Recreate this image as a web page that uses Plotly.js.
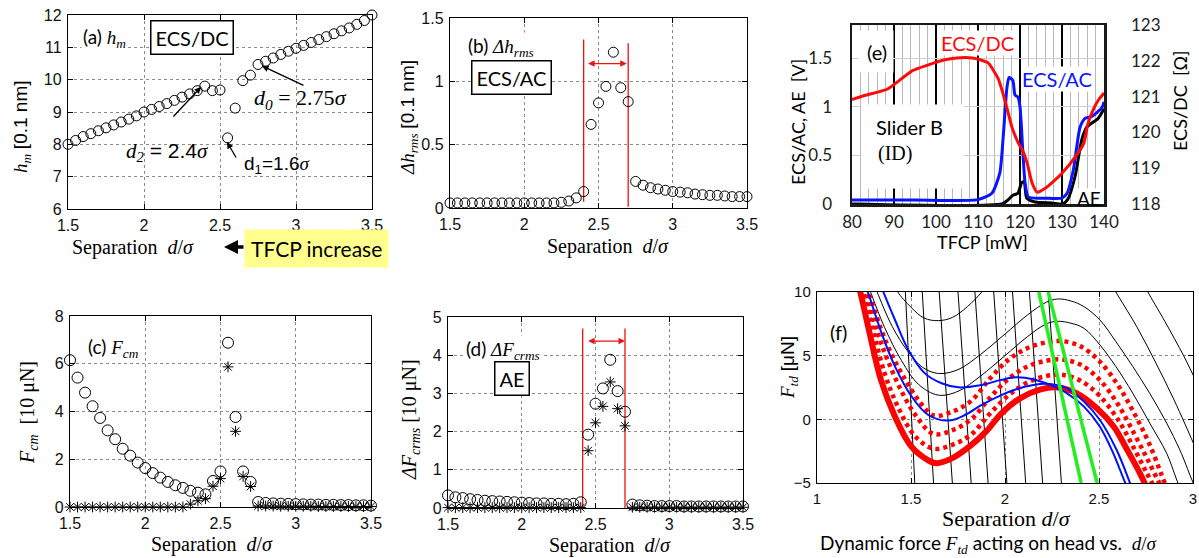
<!DOCTYPE html>
<html><head><meta charset="utf-8">
<script src="https://cdn.plot.ly/plotly-3.0.1.min.js"></script>
<style>html,body{margin:0;padding:0;background:#fff;overflow:hidden}#chart{width:1199px;height:558px}</style>
</head><body><div id="chart"></div>
<script>
// ---------- DATA ----------
const separation = [1.5,1.55,1.6,1.65,1.7,1.75,1.8,1.85,1.9,1.95,2.0,2.05,2.1,2.15,2.2,2.25,2.3,2.35,2.4,2.45,2.5,2.55,2.6,2.65,2.7,2.75,2.8,2.85,2.9,2.95,3.0,3.05,3.1,3.15,3.2,3.25,3.3,3.35,3.4,3.45,3.5];
// (a) h_m [0.1 nm]
const hmValues = [8.0,8.12,8.24,8.33,8.42,8.51,8.6,8.69,8.78,8.88,9.0,9.08,9.17,9.26,9.36,9.46,9.56,9.66,9.8,9.66,9.68,8.2,9.12,9.97,10.14,10.47,10.57,10.67,10.78,10.88,10.97,11.06,11.15,11.24,11.33,11.42,11.51,11.6,11.71,11.83,12.0];
// (b) delta h_rms [0.1 nm]
const dhRms = [0.04,0.04,0.04,0.04,0.04,0.04,0.04,0.04,0.04,0.04,0.04,0.04,0.04,0.04,0.04,0.045,0.055,0.08,0.13,0.66,0.83,0.96,1.23,0.95,0.84,0.21,0.18,0.16,0.15,0.14,0.13,0.125,0.12,0.11,0.105,0.1,0.1,0.095,0.09,0.09,0.09];
const bBoundX = [2.4, 2.7];
const bBoundTop = [1.33, 1.30];
const bBoundBottom = [0.05, 0.01];
const bArrowX = [2.42, 2.69];
const bArrowY = 1.14;
// (c) F_cm [10 uN]
const fcmCircle = [6.15,5.42,4.79,4.22,3.73,3.21,2.84,2.44,2.15,1.86,1.63,1.42,1.23,1.05,0.91,0.8,0.68,0.6,0.53,1.09,1.49,6.88,3.77,1.49,1.05,0.21,0.17,0.15,0.14,0.13,0.12,0.11,0.1,0.1,0.09,0.09,0.08,0.08,0.07,0.07,0.06];
const fcmStar = [0,0,0,0,0,0,0,0,0,0,0,0,0,0,0,0,0.12,0.26,0.35,0.87,1.19,5.87,3.17,1.28,0.86,0.04,0.04,0.04,0.03,0.03,0.03,0.03,0.03,0.02,0.02,0.02,0.02,0.02,0.02,0.02,0.02];
// (d) delta F_crms [10 uN]
const dFcrmsCircle = [0.33,0.28,0.26,0.23,0.21,0.19,0.18,0.17,0.16,0.15,0.14,0.13,0.12,0.12,0.11,0.11,0.1,0.11,0.15,1.92,2.73,3.13,3.88,3.06,2.52,0.09,0.07,0.06,0.05,0.05,0.05,0.05,0.04,0.04,0.04,0.04,0.04,0.04,0.04,0.04,0.04];
const dFcrmsStar = [0.01,0.01,0.01,0.01,0.01,0.01,0.01,0.01,0.01,0.01,0.01,0.01,0.01,0.01,0.01,0.01,0.01,0.01,0.01,1.5,2.23,2.66,3.3,2.6,2.15,0.02,0.02,0.02,0.02,0.02,0.02,0.02,0.02,0.02,0.02,0.02,0.02,0.02,0.02,0.02,0.02];
const dBoundX = [2.413, 2.70];
const dBoundTop = [4.7, 4.7];
const dBoundBottom = [0, 0];
const dArrowX = [2.44, 2.70];
const dArrowY = 4.37;
// (e) TFCP sweep
const tfcpDc = [80,83,88.6,94.3,98,102.1,105,108.6,110.5,112.4,114.8,116.4,118.1,119.6,120.8,121.7,122.9,124.1,126,130,133.8,135.2,136.2,137.5,138.6,140];
const ecsDc = [120.92,121.03,121.22,121.72,121.88,122.03,122.08,122.08,122.03,121.94,121.5,120.9,120.14,119.7,119.45,119.14,118.58,118.33,118.44,118.86,119.42,119.7,120.25,120.65,120.89,121.1];
const tfcpAc = [80,94.6,110,113.3,115.2,116,116.9,117.4,118.3,118.8,119.5,120,120.7,121.2,122,126,130,131.2,132.7,134.3,135.5,137.1,139.5,140];
const ecsAc = [0.04,0.04,0.045,0.11,0.32,0.69,1.2,1.3,1.27,1.12,1.1,1.0,0.52,0.22,0.07,0.06,0.06,0.11,0.35,0.79,0.88,0.9,0.99,1.05];
const tfcpAe = [80,115.7,117.1,118.3,119.5,120.4,121,121.6,123.6,127.6,130.2,131.4,133.1,134.7,135.9,138.6,140];
const aeSignal = [0,0,0.04,0.09,0.11,0.22,0.23,0.06,0.02,0.01,0,0.05,0.28,0.66,0.79,0.88,0.98];
// (f) dynamic force curves
const redSolidX = [1.21,1.23,1.28,1.34,1.415,1.50,1.59,1.635,1.72,1.81,1.90,1.98,2.08,2.19,2.28,2.38,2.49,2.58,2.65,2.72,2.76];
const redSolidY = [11,10,6.75,3.1,0.2,-2.1,-3.2,-3.45,-3.05,-2.15,-0.95,0.45,1.65,2.35,2.5,2.05,0.85,-0.6,-2.4,-4.3,-5.6];
const redDot1X = [1.225,1.245,1.30,1.36,1.43,1.52,1.62,1.72,1.82,1.92,2.02,2.12,2.22,2.30,2.40,2.50,2.60,2.68,2.75,2.80];
const redDot1Y = [11,10,6.9,3.6,1.0,-1.3,-2.3,-2.0,-1.2,0.45,1.9,2.9,3.4,3.5,3.05,1.9,0.0,-2.1,-4.1,-5.5];
const redDot2X = [1.24,1.26,1.32,1.38,1.45,1.53,1.62,1.72,1.82,1.92,2.02,2.12,2.22,2.30,2.40,2.50,2.60,2.69,2.76,2.82,2.84];
const redDot2Y = [11,10,6.9,4.5,2.2,0.2,-1.15,-0.85,0.0,1.7,3.2,4.15,4.6,4.7,4.3,3.15,1.2,-1.2,-3.2,-5.0,-5.6];
const redDot3X = [1.255,1.275,1.34,1.40,1.47,1.545,1.62,1.72,1.82,1.92,2.02,2.12,2.22,2.30,2.40,2.50,2.60,2.69,2.77,2.85,2.87];
const redDot3Y = [11,10,7.1,5.0,3.1,1.4,0.3,0.6,1.45,3.2,4.7,5.6,6.05,6.15,5.75,4.6,2.7,0.4,-2.0,-5.0,-5.6];
const blueAX = [1.34,1.353,1.415,1.486,1.574,1.663,1.752,1.876,1.98,2.06,2.15,2.24,2.33,2.42,2.505,2.576,2.64,2.66];
const blueAY = [10.5,10,7.8,5.45,3.61,2.83,2.51,2.7,3.1,3.3,3.15,2.7,2.04,1.0,-0.58,-2.67,-5,-5.6];
const blueBX = [1.255,1.27,1.344,1.415,1.504,1.592,1.699,1.787,1.876,1.98,2.06,2.15,2.24,2.33,2.42,2.505,2.594,2.665,2.68];
const blueBY = [10.5,10,6.75,4.14,1.78,0.34,-0.1,0.34,1.13,1.9,2.36,2.7,2.77,2.43,1.39,-0.05,-2.41,-5,-5.6];
const black1X = [1.27,1.285,1.36,1.45,1.54,1.645,1.75,1.87,2.0,2.12,2.22,2.28,2.35,2.42,2.505,2.59,2.68,2.77,2.86,2.92,2.94];
const black1Y = [10.6,10,7.2,4.6,2.75,1.9,2.2,3.4,5.0,6.5,7.5,7.7,7.55,7.15,5.84,4.14,2.04,-0.3,-2.67,-5,-5.6];
const black2X = [1.305,1.32,1.40,1.48,1.56,1.645,1.75,1.87,2.0,2.12,2.22,2.28,2.35,2.42,2.505,2.59,2.68,2.77,2.86,2.93,2.99,3.01];
const black2Y = [10.6,10,7.3,5.4,4.1,3.6,3.9,5.1,6.7,8.2,9.2,9.45,9.3,8.85,7.8,6.1,4.14,2.04,-0.3,-2.4,-4.6,-5.3];
const black3X = [1.42,1.43,1.5,1.57,1.645,1.72,1.80,1.876,1.89];
const black3Y = [10.4,10,8.8,7.95,7.75,8.0,8.85,10,10.3];
const blackR1X = [2.58,2.59,2.7,2.8,2.9,3.0,3.02];
const blackR1Y = [10.3,10,7.3,4.5,1.5,-1.8,-2.5];
const blackR2X = [2.75,2.76,2.85,2.95,3.0,3.02];
const blackR2Y = [10.3,10,7.7,5.0,3.5,2.9];
const steepTopX = [1.47,1.56,1.65,1.75,1.84,1.94,2.04,2.13,2.23];
const steepBottomX = [1.52,1.62,1.72,1.82,1.91,2.01,2.11,2.20,2.30];
const greenTopX = [2.18, 2.23];
const greenBottomX = [2.405, 2.49];
const steepTopY = 10, steepBottomY = -5;

// ---------- HELPERS ----------
const W = 1199, H = 558;
const px = v => v / W, py = v => 1 - v / H;
const SERIF = "'Liberation Serif', 'Times New Roman', serif";
const SANS = "'Liberation Sans', Arial, sans-serif";
const CAL = "Lato, 'Open Sans', sans-serif";
const sf = t => `<span style="font-family:Liberation Serif">${t}</span>`;
const ss = t => `<span style="font-family:Liberation Sans">${t}</span>`;

function mAxis(domain, range, dtick, anchor, extra) {
  return Object.assign({
    domain, range, dtick, anchor, tick0: range[0],
    showline: true, mirror: 'allticks', linecolor: '#000', linewidth: 1.2,
    ticks: 'inside', ticklen: 5, tickcolor: '#000',
    showgrid: true, gridcolor: '#8a8a8a', griddash: 'dot', gridwidth: 1,
    zeroline: false, fixedrange: true, ticklabelstandoff: 2,
    tickfont: { family: SANS, size: 16, color: '#111' }
  }, extra || {});
}
function ann(text, x, y, o) {
  return Object.assign({ text, xref: 'paper', yref: 'paper', x: px(x), y: py(y),
    xanchor: 'center', yanchor: 'middle', showarrow: false,
    font: { family: CAL, size: 20, color: '#000' } }, o || {});
}
// white background panel (covers grid lines in panel e)
function blank(x0, y0, x1, y1) {
  return { text: ' ', xref: 'paper', yref: 'paper', x: px((x0 + x1) / 2), y: py((y0 + y1) / 2),
    xanchor: 'center', yanchor: 'middle', showarrow: false, width: x1 - x0, height: y1 - y0,
    bgcolor: '#fff', borderpad: 0, font: { family: CAL, size: 10, color: '#fff' } };
}
function arr(hx, hy, tx, ty, o) {
  return Object.assign({ text: '', xref: 'paper', yref: 'paper', x: px(hx), y: py(hy),
    ax: tx - hx, ay: ty - hy, showarrow: true, arrowhead: 2, arrowsize: 1,
    arrowwidth: 1.3, arrowcolor: '#000', standoff: 0 }, o || {});
}
const circ = (x, y, xa, ya, size) => ({ x, y, xaxis: xa, yaxis: ya, type: 'scatter', mode: 'markers',
  cliponaxis: false, marker: { symbol: 'circle-open', size: size, color: '#000', line: { width: 1, color: '#000' } } });
const star = (x, y, xa, ya) => ({ x, y, xaxis: xa, yaxis: ya, type: 'scatter', mode: 'markers',
  cliponaxis: false, marker: { symbol: 'asterisk-open', size: 9, color: '#000', line: { width: 1, color: '#000' } } });
const curve = (x, y, color, width, dash, shape) => ({ x, y, xaxis: 'x6', yaxis: 'y7', type: 'scatter', mode: 'lines',
  line: { color, width, dash: dash || 'solid', shape: shape || 'spline', smoothing: 1 } });

const traces = [];
// (a)
traces.push(circ(separation, hmValues, 'x', 'y', 10));
// (b)
bBoundX.forEach((v, i) => traces.push({ x: [v, v], y: [bBoundBottom[i], bBoundTop[i]], xaxis: 'x2', yaxis: 'y2',
  type: 'scatter', mode: 'lines', line: { color: '#f01010', width: 1.3 } }));
traces.push(circ(separation, dhRms, 'x2', 'y2', 10));
// (e)
traces.push({ x: tfcpAe, y: aeSignal, xaxis: 'x3', yaxis: 'y3', type: 'scatter', mode: 'lines', line: { color: '#000', width: 3, shape: 'spline', smoothing: 0.6 } });
traces.push({ x: tfcpAc, y: ecsAc, xaxis: 'x3', yaxis: 'y3', type: 'scatter', mode: 'lines', line: { color: '#0a14ff', width: 3, shape: 'spline', smoothing: 0.6 } });
traces.push({ x: tfcpDc, y: ecsDc, xaxis: 'x3', yaxis: 'y4', type: 'scatter', mode: 'lines', line: { color: '#ff0a0a', width: 3, shape: 'spline', smoothing: 0.6 } });
// (c)
traces.push(circ(separation, fcmCircle, 'x4', 'y5', 11));
traces.push(star(separation, fcmStar, 'x4', 'y5'));
// (d)
dBoundX.forEach((v, i) => traces.push({ x: [v, v], y: [dBoundBottom[i], dBoundTop[i]], xaxis: 'x5', yaxis: 'y6',
  type: 'scatter', mode: 'lines', line: { color: '#f01010', width: 1.3 } }));
traces.push(circ(separation, dFcrmsCircle, 'x5', 'y6', 11));
traces.push(star(separation, dFcrmsStar, 'x5', 'y6'));
// (f)
const sx = [], sy = [];
steepTopX.forEach((v, i) => { sx.push(v, steepBottomX[i], null); sy.push(steepTopY, steepBottomY, null); });
traces.push(curve(sx, sy, '#000', 1, 'solid', 'linear'));
traces.push(curve(black3X, black3Y, '#000', 1));
traces.push(curve(black2X, black2Y, '#000', 1));
traces.push(curve(black1X, black1Y, '#000', 1));
traces.push(curve(blackR1X, blackR1Y, '#000', 1));
traces.push(curve(blackR2X, blackR2Y, '#000', 1));
traces.push(curve(redDot3X, redDot3Y, '#ff0000', 4.5, '4px,4px'));
traces.push(curve(redDot2X, redDot2Y, '#ff0000', 4.5, '4px,4px'));
traces.push(curve(redDot1X, redDot1Y, '#ff0000', 4.5, '4px,4px'));
traces.push(curve(redSolidX, redSolidY, '#ff0000', 6));
traces.push(curve(blueAX, blueAY, '#0010ff', 2));
traces.push(curve(blueBX, blueBY, '#0010ff', 2));
const gx = [], gy = [];
greenTopX.forEach((v, i) => { gx.push(v, greenBottomX[i], null); gy.push(steepTopY, steepBottomY, null); });
traces.push(curve(gx, gy, '#22ee22', 3.5, 'solid', 'linear'));

// ---------- LAYOUT ----------
const eTick = { family: CAL, size: 17, color: '#222' };
const layout = {
  width: W, height: H, margin: { l: 0, r: 0, t: 0, b: 0 },
  paper_bgcolor: '#fff', plot_bgcolor: '#fff', showlegend: false,
  xaxis: mAxis([px(68), px(372)], [1.5, 3.5], 0.5, 'y'),
  yaxis: mAxis([py(209), py(15)], [6, 12], 1, 'x'),
  xaxis2: mAxis([px(450), px(747)], [1.5, 3.5], 0.5, 'y2'),
  yaxis2: mAxis([py(208), py(18)], [0, 1.5], 0.5, 'x2'),
  xaxis4: mAxis([px(70), px(371)], [1.5, 3.5], 0.5, 'y5'),
  yaxis5: mAxis([py(507), py(316)], [0, 8], 2, 'x4'),
  xaxis5: mAxis([px(448), px(743)], [1.5, 3.5], 0.5, 'y6'),
  yaxis6: mAxis([py(508), py(317)], [0, 5], 1, 'x5'),
  xaxis6: mAxis([px(817), px(1193)], [1, 3], 0.5, 'y7', { tickfont: { family: SANS, size: 15, color: '#111' } }),
  yaxis7: mAxis([py(483), py(292)], [-5, 10], 5, 'x6', { tickfont: { family: SANS, size: 15, color: '#111' } }),
  xaxis3: { domain: [px(852), px(1104)], range: [80, 140], dtick: 10, tick0: 80, anchor: 'y3',
    showline: true, mirror: true, linecolor: '#1a1a1a', linewidth: 2.5, ticks: '', zeroline: false,
    showgrid: true, gridcolor: '#000', gridwidth: 1.3,
    minor: { dtick: 2, showgrid: true, gridcolor: '#b8b8b8', gridwidth: 1, ticks: '' },
    tickfont: eTick, ticklabelstandoff: 1, fixedrange: true },
  yaxis3: { domain: [py(204), py(25)], range: [0, 1.84], tickvals: [0, 0.5, 1, 1.5], ticktext: ['0', '0.5', '1', '1.5'], anchor: 'x3',
    showline: true, mirror: true, linecolor: '#1a1a1a', linewidth: 2.5, ticks: '', zeroline: false,
    showgrid: true, gridcolor: '#cfcfcf', gridwidth: 1, tickfont: eTick, ticklabelstandoff: 14, fixedrange: true },
  yaxis4: { overlaying: 'y3', side: 'right', anchor: 'x3', range: [118, 123], dtick: 1, tick0: 118,
    showgrid: false, showline: false, ticks: '', zeroline: false, tickfont: eTick, ticklabelstandoff: 26, fixedrange: true },
  annotations: [
    // (a)
    ann('(a) ' + sf('<i>h<sub>m</sub></i>'), 104, 38, { bgcolor: '#fff', font: { family: CAL, size: 19, color: '#000' } }),
    ann('ECS/DC', 192, 38, { bordercolor: '#000', borderwidth: 1.5, borderpad: 4, bgcolor: '#fff', font: { family: CAL, size: 20, color: '#000' } }),
    ann('<i>h<sub>m</sub></i> ' + ss('[0.1 nm]'), 22, 127, { textangle: -90, font: { family: SERIF, size: 19, color: '#000' } }),
    ann('Separation  <i>d</i>/<i>σ</i>', 133, 247, { font: { family: SERIF, size: 20, color: '#000' } }),
    ann('TFCP increase', 316, 248, { bgcolor: '#ffff8e', borderpad: 6, font: { family: CAL, size: 21, color: '#000' } }),
    arr(224, 247, 245, 247, { arrowwidth: 3.5, arrowsize: 0.8 }),
    ann('<i>d</i><sub><i>0</i></sub> = 2.75<i>σ</i>', 300, 99, { font: { family: SERIF, size: 22, color: '#000' } }),
    arr(262, 66, 305, 86),
    ann('<i>d</i><sub><i>2</i></sub>' + ss(' = 2.4') + '<i>σ</i>', 167, 152, { font: { family: SERIF, size: 21, color: '#000' } }),
    arr(201, 87, 172, 118),
    ann('d<sub>1</sub>=1.6' + sf('<i>σ</i>'), 277, 165, { font: { family: SANS, size: 19, color: '#000' } }),
    arr(227, 142, 237, 159),
    // (b)
    ann('(b) ' + sf('<i>Δh<sub>rms</sub></i>'), 501, 47, { bgcolor: '#fff', font: { family: CAL, size: 19, color: '#000' } }),
    ann('ECS/AC', 511, 77, { bordercolor: '#000', borderwidth: 1.5, borderpad: 4, bgcolor: '#fff', font: { family: CAL, size: 20, color: '#000' } }),
    ann('<i>Δh<sub>rms</sub></i> ' + ss('[0.1 nm]'), 409, 118, { textangle: -90, font: { family: SERIF, size: 19, color: '#000' } }),
    ann('Separation  <i>d</i>/<i>σ</i>', 608, 246, { font: { family: SERIF, size: 20, color: '#000' } }),
    { text: '', xref: 'x2', yref: 'y2', x: bArrowX[1], y: bArrowY, axref: 'x2', ayref: 'y2', ax: bArrowX[0], ay: bArrowY,
      showarrow: true, arrowside: 'end+start', arrowhead: 2, arrowsize: 1, arrowwidth: 1.3, arrowcolor: '#f01010', standoff: 0, startstandoff: 0 },
    // (c)
    ann('(c) ' + sf('<i>F<sub>cm</sub></i>'), 113, 348, { bgcolor: '#fff', font: { family: CAL, size: 19, color: '#000' } }),
    ann('<i>F<sub>cm</sub></i>  [10 μN]', 28, 413, { textangle: -90, font: { family: SERIF, size: 20, color: '#000' } }),
    ann('Separation  <i>d</i>/<i>σ</i>', 212, 544, { font: { family: SERIF, size: 20, color: '#000' } }),
    // (d)
    ann('(d) ' + sf('<i>ΔF<sub>crms</sub></i>'), 503, 350, { bgcolor: '#fff', font: { family: CAL, size: 19, color: '#000' } }),
    ann('AE', 512, 378, { bordercolor: '#000', borderwidth: 1.5, borderpad: 4, bgcolor: '#fff', font: { family: CAL, size: 20, color: '#000' } }),
    ann('<i>ΔF<sub>crms</sub></i> [10 μN]', 410, 420, { textangle: -90, font: { family: SERIF, size: 20, color: '#000' } }),
    ann('Separation  <i>d</i>/<i>σ</i>', 610, 545, { font: { family: SERIF, size: 20, color: '#000' } }),
    { text: '', xref: 'x5', yref: 'y6', x: dArrowX[1], y: dArrowY, axref: 'x5', ayref: 'y6', ax: dArrowX[0], ay: dArrowY,
      showarrow: true, arrowside: 'end+start', arrowhead: 2, arrowsize: 1, arrowwidth: 1.3, arrowcolor: '#f01010', standoff: 0, startstandoff: 0 },
    // (e) white label panels, then texts
    blank(859, 31, 893, 72),
    blank(862, 105, 963, 188),
    blank(940, 31, 1014, 55),
    blank(1022, 67, 1091, 91),
    blank(1077, 189, 1102, 203),
    ann('(e)', 877, 52, { font: { family: CAL, size: 20, color: '#000' } }),
    ann('ECS/DC', 977, 43, { font: { family: CAL, size: 20, color: '#ff0a0a' } }),
    ann('ECS/AC', 1057, 79, { font: { family: CAL, size: 20, color: '#0a14ff' } }),
    ann('Slider B', 910, 127, { font: { family: CAL, size: 20, color: '#000' } }),
    ann('(ID)', 895, 153, { font: { family: SERIF, size: 20, color: '#000' } }),
    ann('AE', 1089, 198, { font: { family: CAL, size: 19, color: '#000' } }),
    ann('ECS/AC, AE  [V]', 798, 122, { textangle: -90, font: { family: CAL, size: 18, color: '#000' } }),
    ann('ECS/DC  [Ω]', 1180, 101, { textangle: -90, font: { family: CAL, size: 18, color: '#000' } }),
    ann('TFCP [mW]', 982, 242, { font: { family: CAL, size: 18, color: '#000' } }),
    // (f)
    ann('(f)', 838, 332, { font: { family: CAL, size: 20, color: '#000' } }),
    ann('<i>F<sub>td</sub></i> ' + ss('[μN]'), 789, 368, { textangle: -90, font: { family: SERIF, size: 19, color: '#000' } }),
    ann('Separation <i>d</i>/<i>σ</i>', 1006, 518, { font: { family: SERIF, size: 22, color: '#000' } }),
    ann('Dynamic force ' + sf('<i>F<sub>td</sub></i>') + ' acting on head vs.  ' + sf('<i>d</i>/<i>σ</i>'), 988, 544,
      { bgcolor: '#fff', borderpad: 0, font: { family: CAL, size: 19, color: '#000' } })
  ]
};

Plotly.newPlot('chart', traces, layout, { staticPlot: true, displayModeBar: false });
</script>
</body></html>
